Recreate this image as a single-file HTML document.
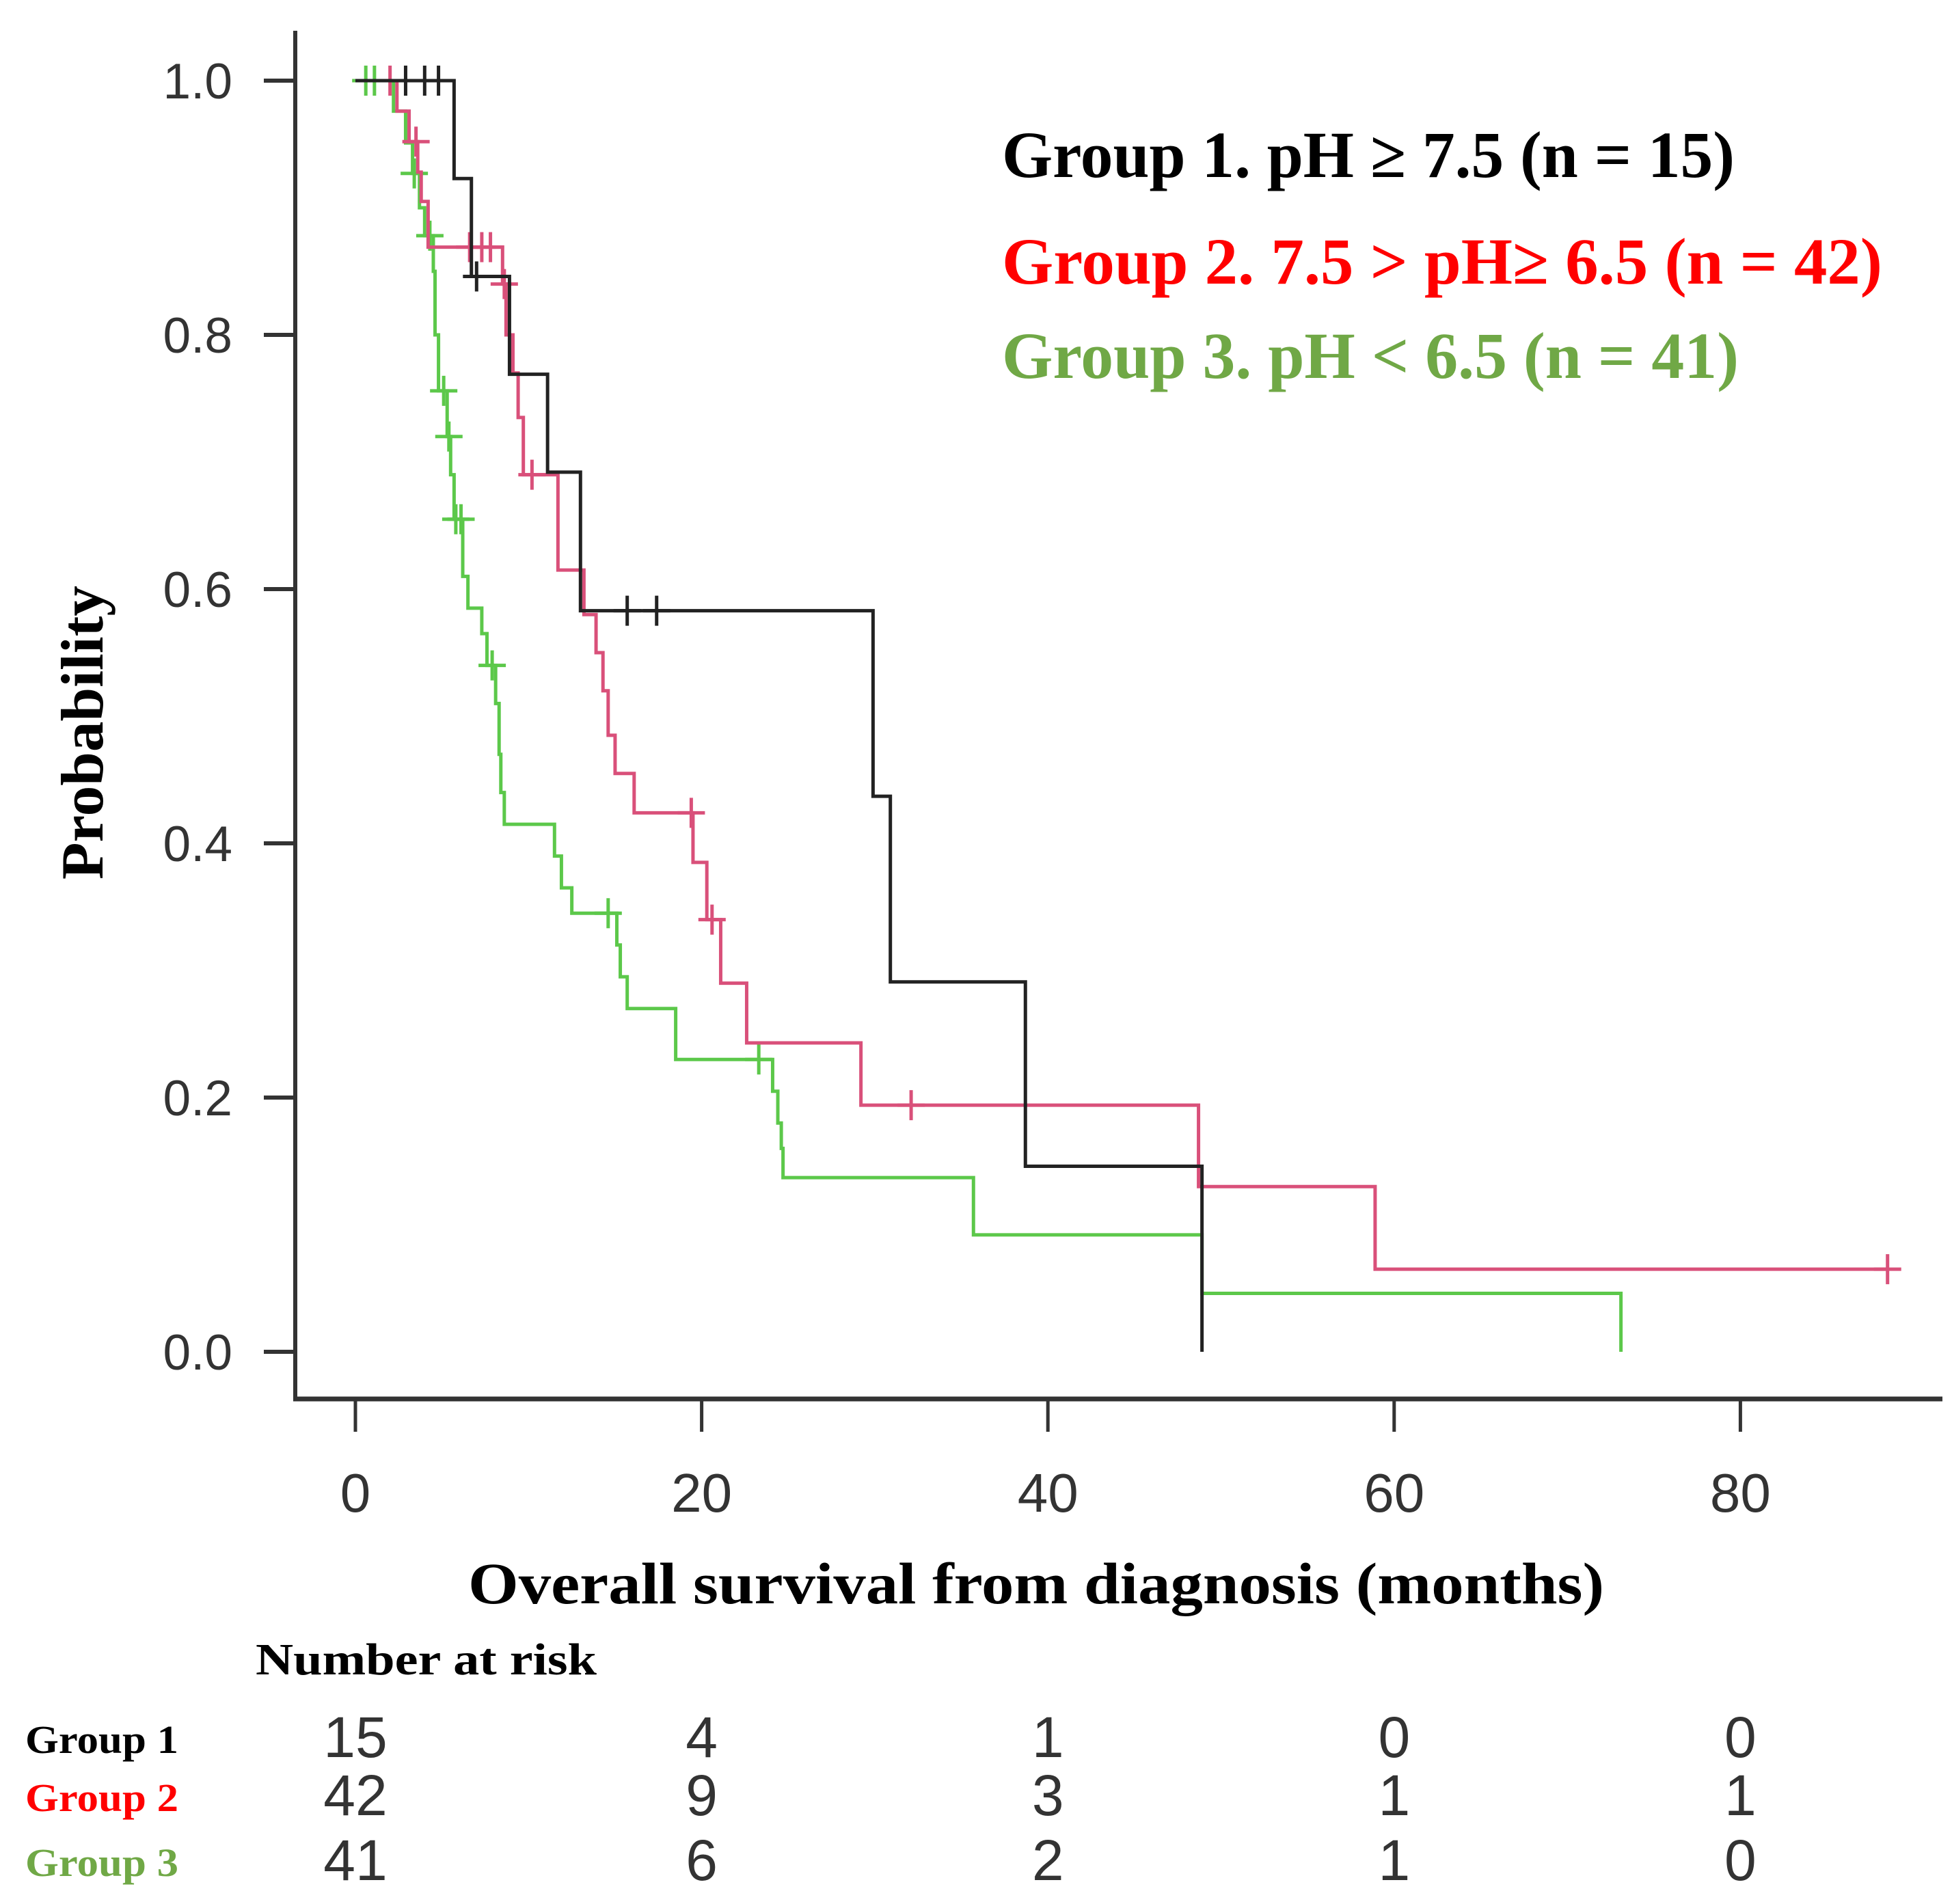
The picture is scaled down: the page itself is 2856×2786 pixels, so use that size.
<!DOCTYPE html>
<html><head><meta charset="utf-8"><style>
html,body{margin:0;padding:0;background:#fff;}
svg{display:block;}
.tk{font-family:"Liberation Sans",sans-serif;fill:#333;}
.tm{font-family:"Liberation Serif",serif;font-weight:bold;}
</style></head><body>
<svg id="chart" width="2856" height="2786" viewBox="0 0 2856 2786" xmlns="http://www.w3.org/2000/svg">
<rect width="2856" height="2786" fill="#fff"/>
<g id="axes"></g>
<g id="curves"></g>
<g>
<text class="tm" x="1466" y="259" font-size="96" fill="#000" textLength="1072" lengthAdjust="spacingAndGlyphs">Group 1. pH ≥ 7.5 (n = 15)</text>
<text class="tm" x="1466" y="415" font-size="96" fill="#f00" textLength="1288" lengthAdjust="spacingAndGlyphs">Group 2. 7.5 &gt; pH≥ 6.5 (n = 42)</text>
<text class="tm" x="1466" y="553" font-size="96" fill="#70a846" textLength="1078" lengthAdjust="spacingAndGlyphs">Group 3. pH &lt; 6.5 (n = 41)</text>
</g>
<text class="tm" font-size="88" fill="#000" transform="translate(150,1072) rotate(-90)" text-anchor="middle" textLength="430" lengthAdjust="spacingAndGlyphs">Probability</text>
<text class="tm" x="685" y="2346" font-size="86" fill="#000" textLength="1662" lengthAdjust="spacingAndGlyphs">Overall survival from diagnosis (months)</text>
<text class="tm" x="374" y="2450" font-size="66" fill="#000" textLength="499" lengthAdjust="spacingAndGlyphs">Number at risk</text>
<g id="risk"></g>
</svg>
<script>
const xTicks=[0,20,40,60,80];
const yTicks=[0,0.2,0.4,0.6,0.8,1.0];
const yTickLabels=["0.0","0.2","0.4","0.6","0.8","1.0"];
const g1Times=[5.7,6.7,8.9,11.1,13.0,29.9,30.9,38.7,48.9];
const g1Surv=[0.923,0.846,0.769,0.692,0.583,0.437,0.291,0.146,0];
const g1End=48.9;
const g1Censor=[2.9,4.0,4.8,7.0,15.7,17.4];
const g2Times=[2.4,3.1,3.6,3.8,4.2,8.5,8.7,9.1,9.4,9.7,11.7,13.2,13.9,14.3,14.6,15.0,16.1,19.5,20.3,21.1,22.6,29.2,48.7,58.9];
const g2Surv=[0.976,0.952,0.928,0.905,0.869,0.84,0.80,0.77,0.735,0.69,0.615,0.58,0.55,0.52,0.485,0.455,0.424,0.385,0.34,0.29,0.243,0.194,0.13,0.065];
const g2End=88.5;
const g2Censor=[2.0,3.5,6.6,7.3,7.8,8.6,10.2,19.4,20.6,32.1,88.5];
const g3Times=[2.2,2.9,3.3,3.7,4.0,4.5,4.6,4.8,5.3,5.5,5.7,6.2,6.5,7.3,7.6,8.1,8.3,8.4,8.6,11.5,11.9,12.5,15.1,15.3,15.7,18.5,24.1,24.4,24.6,24.7,35.7,48.9,73.1];
const g3Surv=[0.976,0.951,0.927,0.90,0.878,0.85,0.80,0.756,0.72,0.69,0.655,0.61,0.585,0.565,0.54,0.51,0.47,0.44,0.415,0.39,0.365,0.345,0.32,0.295,0.27,0.23,0.205,0.18,0.16,0.137,0.092,0.046,0];
const g3End=73.1;
const g3Censor=[0.6,1.1,3.4,4.3,5.1,5.4,5.8,6.1,7.9,14.6,23.3];
const riskG1=[15,4,1,0,0];
const riskG2=[42,9,3,1,1];
const riskG3=[41,6,2,1,0];

const NS="http://www.w3.org/2000/svg";
function X(m){return 520+m*25.33;}
function Y(p){return 1978-p*1860;}
function mk(tag,attrs,parent){const e=document.createElementNS(NS,tag);for(const k in attrs)e.setAttribute(k,attrs[k]);parent.appendChild(e);return e;}
const axes=document.getElementById('axes');
let e=mk('line',{x1:432,y1:45,x2:432,y2:2050,stroke:'#333','stroke-width':6},axes);


e=mk('line',{x1:429,y1:2047,x2:2842,y2:2047,stroke:'#333','stroke-width':7},axes);


yTicks.forEach((v,i)=>{
  const t=mk('line',{x1:386,y1:Y(v),x2:432,y2:Y(v),stroke:'#333','stroke-width':6},axes);
  
  
  const l=mk('text',{x:340,y:Y(v)+26,'font-size':73,'text-anchor':'end',class:'tk'},axes);
  l.textContent=yTickLabels[i];
  
  
});
xTicks.forEach(v=>{
  const t=mk('line',{x1:X(v),y1:2047,x2:X(v),y2:2095,stroke:'#333','stroke-width':5},axes);
  
  
  const l=mk('text',{x:X(v),y:2212,'font-size':80,'text-anchor':'middle',class:'tk'},axes);
  l.textContent=String(v);
  
  
});
const curves=document.getElementById('curves');
function survAt(times,surv,t){let s=1;for(let i=0;i<times.length;i++){if(times[i]<=t)s=surv[i];}return s;}
function drawCurve(times,surv,end,cens,color,name){
  let d='M'+X(0)+','+Y(1);
  for(let i=0;i<times.length;i++){d+=' H'+X(times[i])+' V'+Y(surv[i]);}
  d+=' H'+X(end);
  const p=mk('path',{d:d,fill:'none',stroke:color,'stroke-width':5},curves);
  
  
  cens.forEach(c=>{
    const sv=survAt(times,surv,c);
    const m=mk('path',{d:'M'+(X(c)-20)+','+Y(sv)+' H'+(X(c)+20)+' M'+X(c)+','+(Y(sv)-22)+' V'+(Y(sv)+22),stroke:color,'stroke-width':5,fill:'none'},curves);
    
    
  });
}
drawCurve(g3Times,g3Surv,g3End,g3Censor,'#5cc84a','group-3');
drawCurve(g2Times,g2Surv,g2End,g2Censor,'#d9507a','group-2');
drawCurve(g1Times,g1Surv,g1End,g1Censor,'#222','group-1');
const risk=document.getElementById('risk');
const rows=[["Group 1","#000",riskG1,2571],["Group 2","#f00",riskG2,2656],["Group 3","#70a846",riskG3,2751]];
rows.forEach(r=>{
  const lab=mk('text',{x:37,y:r[3]-6,'font-size':58,fill:r[1],class:'tm',textLength:224,lengthAdjust:'spacingAndGlyphs'},risk);
  lab.textContent=r[0];
  
  
  r[2].forEach((n,i)=>{
    const t=mk('text',{x:X(xTicks[i]),y:r[3],'font-size':84,'text-anchor':'middle',class:'tk'},risk);
    t.textContent=String(n);
    
    
  });
});
</script>
</body></html>
